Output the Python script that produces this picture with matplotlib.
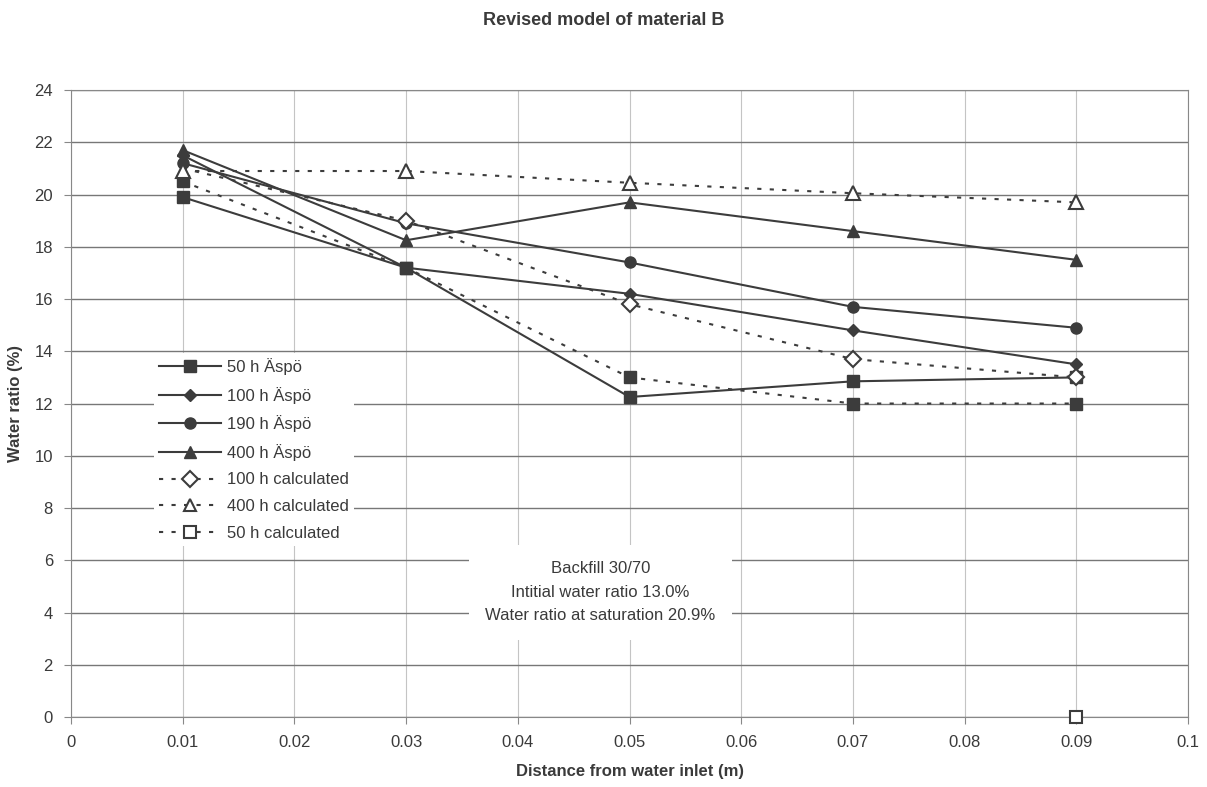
import matplotlib
matplotlib.use('Agg')
import matplotlib.pyplot as plt
from matplotlib.lines import Line2D

plt.rcParams['font.family'] = ['Liberation Sans', 'DejaVu Sans']

# distance from water inlet (m)
dist = [0.01, 0.03, 0.05, 0.07, 0.09]

# measured water ratio (%)
aspo_50 = [19.9, 17.2, 12.25, 12.85, 13.0]
aspo_100 = [21.5, 17.2, 16.2, 14.8, 13.5]
aspo_190 = [21.2, 18.9, 17.4, 15.7, 14.9]
aspo_400 = [21.7, 18.25, 19.7, 18.6, 17.5]

# calculated water ratio (%)
calc_100 = [21.0, 19.0, 15.8, 13.7, 13.0]
calc_400 = [20.9, 20.9, 20.45, 20.05, 19.7]
calc_50 = [20.5, 17.2, 13.0, 12.0, 12.0]
calc_50_extra_x = [0.09]
calc_50_extra_y = [0.0]

labels = ['50 h Äspö', '100 h Äspö', '190 h Äspö', '400 h Äspö',
          '100 h calculated', '400 h calculated', '50 h calculated']

note = 'Backfill 30/70\nIntitial water ratio 13.0%\nWater ratio at saturation 20.9%'

lc = '#3c3c3c'
txt = '#3a3a3a'
dot = (0, (2, 4))

fig = plt.figure(figsize=(12.07, 7.87), dpi=100)
ax = fig.add_axes([0.0588, 0.0889, 0.9255, 0.7967])

ax.plot(dist, aspo_50, '-', color=lc, lw=1.5, marker='s', ms=8, zorder=3)
ax.plot(dist, aspo_100, '-', color=lc, lw=1.5, marker='D', ms=6, zorder=3)
ax.plot(dist, aspo_190, '-', color=lc, lw=1.5, marker='o', ms=8, zorder=3)
ax.plot(dist, aspo_400, '-', color=lc, lw=1.5, marker='^', ms=8, zorder=3)
ax.plot(dist, calc_50, linestyle=dot, color=lc, lw=1.5, marker='s', ms=8, zorder=3)
# first marker is hidden under the measured points in the original
ax.plot(dist, calc_100, linestyle=dot, color=lc, lw=1.5, marker='D', ms=8,
        mfc='white', mec=lc, mew=1.5, markevery=[1, 2, 3, 4], zorder=4)
ax.plot(dist, calc_400, linestyle=dot, color=lc, lw=1.5, marker='^', ms=10,
        mfc='white', mec=lc, mew=1.5, zorder=4)
ax.plot(calc_50_extra_x, calc_50_extra_y, linestyle='none', marker='s', ms=8,
        mfc='white', mec=lc, mew=1.5, zorder=5, clip_on=False)

ax.set_xlim(0, 0.1)
ax.set_ylim(0, 24)
ax.set_xticks([i / 100 for i in range(11)])
ax.set_xticklabels(['0', '0.01', '0.02', '0.03', '0.04', '0.05', '0.06',
                    '0.07', '0.08', '0.09', '0.1'])
ax.set_yticks(range(0, 25, 2))
ax.grid(axis='y', color='#777777', lw=1.0)
ax.grid(axis='x', color='#c4c4c4', lw=0.8)
ax.set_axisbelow(True)
for s in ax.spines.values():
    s.set_color('#888888')
ax.tick_params(colors='#888888', labelcolor=txt, labelsize=12, length=5, pad=8)

ax.set_xlabel('Distance from water inlet (m)', fontsize=12, fontweight='bold', color=txt, labelpad=10)
ax.set_ylabel('Water ratio (%)', fontsize=12, fontweight='bold', color=txt, labelpad=8)
fig.suptitle('Revised model of material B', fontsize=13, fontweight='bold', color=txt, y=0.985)

handles = [
    Line2D([], [], color=lc, lw=1.5, marker='s', ms=8),
    Line2D([], [], color=lc, lw=1.5, marker='D', ms=6),
    Line2D([], [], color=lc, lw=1.5, marker='o', ms=8),
    Line2D([], [], color=lc, lw=1.5, marker='^', ms=8),
    Line2D([], [], color=lc, lw=1.5, linestyle=dot, marker='D', ms=8, mfc='white', mew=1.5),
    Line2D([], [], color=lc, lw=1.5, linestyle=dot, marker='^', ms=9, mfc='white', mew=1.5),
    Line2D([], [], color=lc, lw=1.5, linestyle=dot, marker='s', ms=8, mfc='white', mew=1.5),
]
leg = ax.legend(handles, labels, loc='upper left', bbox_to_anchor=(0.067, 0.594),
                frameon=True, fontsize=12, handlelength=3.7, labelspacing=0.7,
                handletextpad=0.35, borderpad=0.3, fancybox=False)
leg.get_frame().set_edgecolor('none')
leg.get_frame().set_facecolor('white')
leg.get_frame().set_alpha(1)
for t in leg.get_texts():
    t.set_color(txt)

ax.text(0.0474, 4.78, note, ha='center', va='center', fontsize=12, color=txt,
        linespacing=1.7, zorder=6,
        bbox=dict(facecolor='white', edgecolor='none', pad=12))

fig.savefig('out.png', dpi=100)
